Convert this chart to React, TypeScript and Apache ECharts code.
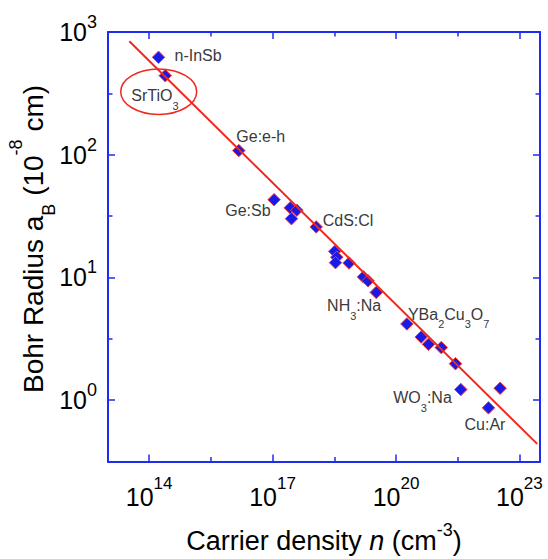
import React, { useEffect, useRef } from 'react';
import * as echarts from 'echarts';

// Carrier density n (cm^-3) and Bohr radius a_B (10^-8 cm) of the plotted materials
const carrierDensity = [
  1.69e14, 2.46e14, 1.51e16, 1.09e17, 2.69e17, 3.89e17, 2.88e17, 1.15e18,
  3.24e18, 3.63e18, 3.39e18, 7.24e18, 1.62e19, 2.09e19, 3.31e19, 1.84e20,
  4.1e20, 6.17e20, 1.26e21, 2.79e21, 3.76e21, 1.77e22, 3.4e22,
];
const bohrRadius = [
  622, 441, 108, 43.0, 36.9, 35.3, 30.1, 25.8,
  16.3, 14.6, 13.2, 13.1, 10.1, 9.38, 7.55, 4.18,
  3.27, 2.85, 2.68, 1.98, 1.22, 0.865, 1.25,
];

// Mott-criterion fit line end points
const fitDensity = [3.3e13, 2.7e23];
const fitRadius = [841, 0.44];

// Axis ticks (decade exponents)
const xLabelExponents = [14, 17, 20, 23];
const xMinorExponents = [15.5, 18.5, 21.5];
const yLabelExponents = [0, 1, 2, 3];
const yMinorExponents = [0.5, 1.5, 2.5];

// Material annotations: text ("_" = subscript) and the point they belong to
const materialNames = ['n-InSb', 'SrTiO_3', 'Ge:e-h', 'Ge:Sb', 'CdS:Cl', 'NH_3:Na', 'YBa_2Cu_3O_7', 'WO_3:Na', 'Cu:Ar'];
const materialPointIndex = [0, 1, 2, 3, 7, 14, 15, 20, 21];

// Annotation layout (align, offset from point in px)
const labelLayout: { align: string; offset: [number, number] }[] = [
  { align: 'left', offset: [16, -1.5] },
  { align: 'left', offset: [-34, 20] },
  { align: 'left', offset: [-2.5, -14.5] },
  { align: 'right', offset: [-3.5, 10.5] },
  { align: 'left', offset: [6.5, -6] },
  { align: 'right', offset: [5, 13.5] },
  { align: 'left', offset: [1, -9.5] },
  { align: 'right', offset: [-9, 8] },
  { align: 'center', offset: [-3.5, 16.5] },
];

const FONT = 'Liberation Sans, Arial, Helvetica, sans-serif';
const BLUE = '#1e2cf0';
const RED = '#f0281e';
const LABEL_GRAY = '#3a3a3a';

const toRich = (s: string) => '{m|' + s.replace(/_(\d)/g, '}{sub|$1}{m|') + '}';

export default function App() {
  const ref = useRef<HTMLDivElement>(null);

  useEffect(() => {
    document.body.style.margin = '0';
    if (!ref.current) return;
    const chart = echarts.init(ref.current, undefined, { renderer: 'svg' });

    const scatterData = carrierDensity.map((n, i) => {
      const item: any = { value: [Math.log10(n), Math.log10(bohrRadius[i])] };
      const k = materialPointIndex.indexOf(i);
      if (k >= 0) {
        item.label = {
          show: true,
          position: 'inside',
          align: labelLayout[k].align,
          verticalAlign: 'middle',
          offset: labelLayout[k].offset,
          formatter: toRich(materialNames[k]),
          rich: {
            m: { fontSize: 16, fontFamily: FONT, color: LABEL_GRAY, verticalAlign: 'middle' },
            sub: { fontSize: 11, fontFamily: FONT, color: LABEL_GRAY, verticalAlign: 'middle', padding: [20, 0, 0, 0] },
          },
        };
      }
      return item;
    });

    const fitData = fitDensity.map((n, i) => [Math.log10(n), Math.log10(fitRadius[i])]);

    const tickRichX = {
      b: { fontSize: 25, fontFamily: FONT, color: '#000', verticalAlign: 'middle' },
      s: { fontSize: 17, fontFamily: FONT, color: '#000', verticalAlign: 'middle', padding: [0, 0, 28, 0] },
    };
    const tickRichY = {
      b: { fontSize: 25, fontFamily: FONT, color: '#000', verticalAlign: 'middle' },
      s: { fontSize: 18, fontFamily: FONT, color: '#000', verticalAlign: 'middle', padding: [0, 0, 20, 0] },
    };
    const fmt = (v: number) => `{b|10}{s|${Math.round(v)}}`;

    const lineStyle = { color: BLUE, width: 2 };
    const tickLine = { color: BLUE, width: 1.5 };

    const xBase = { type: 'value', min: 13, max: 23.5, splitLine: { show: false } };
    const yBase = { type: 'value', min: -0.5, max: 3, splitLine: { show: false } };

    chart.setOption({
      animation: false,
      grid: { left: 108, right: 8, top: 32, bottom: 91, containLabel: false },
      xAxis: [
        {
          ...xBase, position: 'bottom',
          axisLine: { show: true, onZero: false, lineStyle },
          axisTick: { show: true, inside: true, length: 7, customValues: xLabelExponents, lineStyle: tickLine },
          axisLabel: { show: true, customValues: xLabelExponents, margin: 13, formatter: fmt, rich: tickRichX },
          name: '{t|Carrier density }{i|n}{t| (cm}{s|-3}{t|)}',
          nameLocation: 'middle',
          nameGap: 59,
          nameTextStyle: {
            rich: {
              t: { fontSize: 27, fontFamily: FONT, color: '#000', verticalAlign: 'middle' },
              i: { fontSize: 27, fontFamily: FONT, fontStyle: 'italic', color: '#000', verticalAlign: 'middle' },
              s: { fontSize: 18, fontFamily: FONT, color: '#000', verticalAlign: 'middle', padding: [0, 0, 22, 0] },
            },
          },
        },
        {
          ...xBase, position: 'bottom',
          axisLine: { show: false, onZero: false },
          axisTick: { show: true, inside: true, length: 4.5, customValues: xMinorExponents, lineStyle: tickLine },
          axisLabel: { show: false },
        },
        {
          ...xBase, position: 'top',
          axisLine: { show: true, onZero: false, lineStyle },
          axisTick: { show: true, inside: true, length: 7, customValues: xLabelExponents, lineStyle: tickLine },
          axisLabel: { show: false },
        },
        {
          ...xBase, position: 'top',
          axisLine: { show: false, onZero: false },
          axisTick: { show: true, inside: true, length: 4.5, customValues: xMinorExponents, lineStyle: tickLine },
          axisLabel: { show: false },
        },
      ],
      yAxis: [
        {
          ...yBase, position: 'left',
          axisLine: { show: true, onZero: false, lineStyle },
          axisTick: { show: true, inside: true, length: 7, customValues: yLabelExponents, lineStyle: tickLine },
          axisLabel: { show: true, customValues: yLabelExponents, margin: 11, formatter: fmt, rich: tickRichY },
        },
        {
          ...yBase, position: 'left',
          axisLine: { show: false, onZero: false },
          axisTick: { show: true, inside: true, length: 4.5, customValues: yMinorExponents, lineStyle: tickLine },
          axisLabel: { show: false },
        },
        {
          ...yBase, position: 'right',
          axisLine: { show: true, onZero: false, lineStyle },
          axisTick: { show: true, inside: true, length: 7, customValues: yLabelExponents, lineStyle: tickLine },
          axisLabel: { show: false },
        },
        {
          ...yBase, position: 'right',
          axisLine: { show: false, onZero: false },
          axisTick: { show: true, inside: true, length: 4.5, customValues: yMinorExponents, lineStyle: tickLine },
          axisLabel: { show: false },
        },
      ],
      series: [
        {
          type: 'scatter',
          xAxisIndex: 0,
          yAxisIndex: 0,
          symbol: 'diamond',
          symbolSize: 12.5,
          z: 2,
          itemStyle: { color: '#1a1ae6', borderColor: '#ff3a30', borderWidth: 1, opacity: 1 },
          data: scatterData,
        },
        {
          type: 'line',
          xAxisIndex: 0,
          yAxisIndex: 0,
          z: 3,
          symbol: 'none',
          lineStyle: { color: RED, width: 2 },
          data: fitData,
        },
      ],
      graphic: [
        {
          type: 'ellipse',
          shape: { cx: 158.7, cy: 91.7, rx: 38, ry: 22.7 },
          style: { fill: 'none', stroke: RED, lineWidth: 1.5 },
          z: 10,
        },
        {
          type: 'text',
          x: 33,
          y: 239,
          rotation: Math.PI / 2,
          style: {
            text: '{t|Bohr Radius a}{sub|B}{t| (10}{sup|-8}{t| cm)}',
            align: 'center',
            verticalAlign: 'middle',
            fill: '#000',
            rich: {
              t: { fontSize: 28, fontFamily: FONT, fill: '#000', verticalAlign: 'middle' },
              sub: { fontSize: 18, fontFamily: FONT, fill: '#000', verticalAlign: 'middle', padding: [32, 0, 0, 0] },
              sup: { fontSize: 18, fontFamily: FONT, fill: '#000', verticalAlign: 'middle', padding: [0, 0, 34, 0] },
            },
          },
        },
      ],
    });

    return () => chart.dispose();
  }, []);

  return <div ref={ref} style={{ width: 548, height: 559 }} />;
}
